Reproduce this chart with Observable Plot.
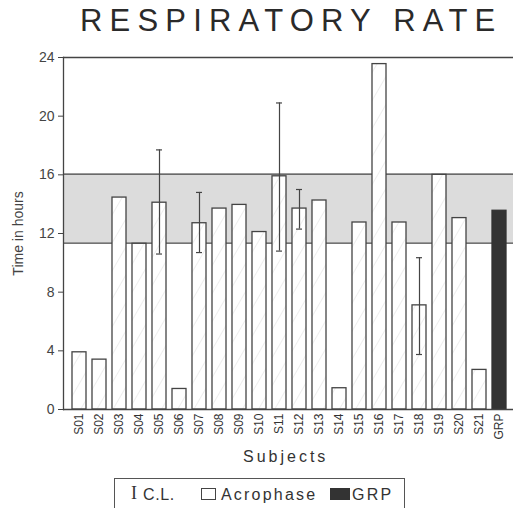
<!DOCTYPE html>
<html>
<head>
<meta charset="utf-8">
<script src="https://cdn.jsdelivr.net/npm/d3@7"></script>
<script src="https://cdn.jsdelivr.net/npm/@observablehq/plot@0.6"></script>
<style>
  html, body { margin: 0; padding: 0; background: #fff; }
  body { width: 513px; height: 508px; overflow: hidden; position: relative; font-family: "Liberation Sans", Arial, sans-serif; color: #333; }
  .abs { position: absolute; white-space: nowrap; }
  #title { left: 80px; top: 4px; font-size: 31px; line-height: 34px; letter-spacing: 7.2px; color: #2a2a2a; }
  #chart { left: 0; top: 44px; }
  #xlabel { left: 243px; top: 448px; font-size: 16px; line-height: 18px; letter-spacing: 3px; color: #333; }
  #legend { left: 114px; top: 478px; width: 291px; height: 50px; border: 1px solid #555; box-sizing: border-box; }
  .lg { font-size: 16px; line-height: 16px; letter-spacing: 2.2px; color: #333; top: 487px; }
  .sw { top: 488px; width: 15px; height: 12px; box-sizing: border-box; border: 1px solid #444; }
</style>
</head>
<body>
<div id="title" class="abs">RESPIRATORY RATE</div>
<div id="chart" class="abs"></div>
<div id="xlabel" class="abs">Subjects</div>
<div id="legend" class="abs"></div>
<span class="abs lg" style="left:131px; top:485px; font-family:'Liberation Serif', serif; font-size:18px; letter-spacing:0">I</span>
<span class="abs lg" style="left:143px; letter-spacing:0.6px">C.L.</span>
<span class="abs sw" style="left:201px; background:#fff"></span>
<span class="abs lg" style="left:221px">Acrophase</span>
<span class="abs sw" style="left:330px; width:20px; background:#333; border-color:#333"></span>
<span class="abs lg" style="left:352px">GRP</span>
<script>
// ---- data ----
const subjects = ["S01","S02","S03","S04","S05","S06","S07","S08","S09","S10","S11",
                  "S12","S13","S14","S15","S16","S17","S18","S19","S20","S21","GRP"];
const acrophase = [3.9, 3.4, 14.45, 11.3, 14.1, 1.4, 12.7, 13.7, 13.95, 12.1, 15.9,
                   13.7, 14.25, 1.45, 12.75, 23.55, 12.75, 7.1, 16.0, 13.05, 2.7, 13.55];
const clSubjects = ["S05", "S07", "S11", "S12", "S18"];
const clLow  = [10.6, 10.7, 10.8, 12.3, 3.75];
const clHigh = [17.7, 14.8, 20.9, 15.0, 10.35];
const grpLow = 11.35;
const grpHigh = 16.05;
const yTicks = [0, 4, 8, 12, 16, 20, 24];

const bars = subjects.map((s, i) => ({subject: s, value: acrophase[i]}));
const cl = clSubjects.map((s, i) => ({subject: s, lo: clLow[i], hi: clHigh[i]}));
const band = [{lo: grpLow, hi: grpHigh}];

const ink = "#444";

const svg = Plot.plot({
  width: 513,
  height: 403,
  marginTop: 13,
  marginBottom: 38,
  marginLeft: 63,
  marginRight: 0,
  style: {fontFamily: "'Liberation Sans', Arial, sans-serif", color: "#333", background: "white", overflow: "visible"},
  x: {type: "band", domain: subjects, range: [63, 515.3], paddingInner: 0.32, paddingOuter: 0.16, align: 0.5},
  y: {domain: [0, 24]},
  marks: [
    Plot.rect(band, {y1: "lo", y2: "hi", fill: "#dcdcdc"}),
    Plot.ruleY(band, {y: "lo", stroke: ink, strokeWidth: 1.3}),
    Plot.ruleY(band, {y: "hi", stroke: ink, strokeWidth: 1.3}),
    Plot.barY(bars.filter(d => d.subject !== "GRP"), {x: "subject", y: "value", fill: "url(#hatch)", stroke: ink, strokeWidth: 1.3}),
    Plot.barY(bars.filter(d => d.subject === "GRP"), {x: "subject", y: "value", fill: "#333", stroke: "#333", strokeWidth: 1.3}),
    Plot.ruleX(cl, {x: "subject", y1: "lo", y2: "hi", stroke: ink, strokeWidth: 1.2}),
    Plot.tickY(cl, {x: "subject", y: "lo", stroke: ink, strokeWidth: 1.2, insetLeft: 4, insetRight: 4}),
    Plot.tickY(cl, {x: "subject", y: "hi", stroke: ink, strokeWidth: 1.2, insetLeft: 4, insetRight: 4}),
    Plot.ruleY([0, 24], {stroke: ink, strokeWidth: 1.3}),
    Plot.frame({anchor: "left", stroke: ink, strokeWidth: 1.3}),
    Plot.axisY({ticks: yTicks, tickSize: 5, tickPadding: 4, fontSize: 14, fill: "#444", stroke: ink,
                label: "Time in hours", labelAnchor: "center", labelArrow: "none", labelOffset: 50}),
    Plot.axisX({tickSize: 0, tickPadding: 4, tickRotate: -90, fontSize: 12, fill: "#333", label: null})
  ]
});

const defs = document.createElementNS("http://www.w3.org/2000/svg", "defs");
defs.innerHTML = `<pattern id="hatch" patternUnits="userSpaceOnUse" width="14" height="14" patternTransform="rotate(30)">
  <rect width="14" height="14" fill="#fff"></rect>
  <line x1="0" y1="0" x2="0" y2="14" stroke="#d6d6d6" stroke-width="0.8"></line>
</pattern>`;
svg.insertBefore(defs, svg.firstChild);
document.getElementById("chart").appendChild(svg);
</script>
</body>
</html>
